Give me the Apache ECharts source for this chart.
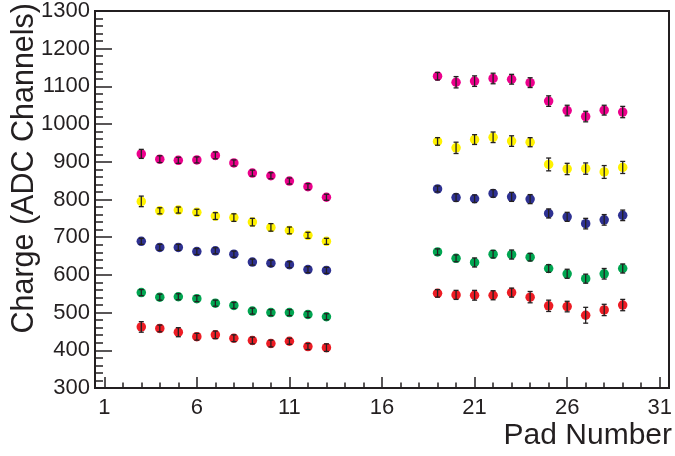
<!DOCTYPE html>
<html>
<head>
<meta charset="utf-8">
<script src="https://cdn.jsdelivr.net/npm/echarts@6/dist/echarts.min.js"></script>
<style>html,body{margin:0;padding:0;background:#fff;}#c{width:675px;height:456px;}</style>
</head>
<body>
<div id="c"></div>
<script>
// Pad numbers
const padsLeft = [3,4,5,6,7,8,9,10,11,12,13];
const padsRight = [19,20,21,22,23,24,25,26,27,28,29];

// Charge values (ADC channels) per series, left group then right group
const magentaVals = [921,907,904,905,917,897,870,863,849,834,806, 1127,1111,1114,1121,1119,1110,1061,1036,1020,1037,1032];
const magentaErr  = [12,9,8,8,9,8,8,8,8,8,8, 10,15,14,14,13,13,14,14,14,13,15];
const yellowVals  = [795,770,772,766,756,752,740,726,718,705,689, 954,937,959,965,955,952,893,881,882,873,885];
const yellowErr   = [14,8,8,8,9,10,10,10,9,8,8, 10,15,13,14,14,12,17,15,15,17,16];
const blueVals    = [689,673,673,662,664,655,634,631,627,614,612, 828,805,802,816,807,801,763,754,736,746,758];
const blueErr     = [8,8,8,8,8,8,8,8,8,8,8, 8,10,10,10,12,12,12,12,14,14,14];
const greenVals   = [553,541,542,537,525,519,504,500,500,495,489, 661,644,633,655,654,647,617,603,590,603,617];
const greenErr    = [8,8,8,8,8,8,8,8,8,8,8, 8,9,12,10,12,10,10,12,12,14,12];
const redVals     = [462,458,448,436,441,432,426,418,424,410,407, 551,547,546,546,553,541,518,516,493,507,520];
const redErr      = [14,9,12,9,10,9,9,9,8,8,10, 10,12,13,12,12,15,15,14,21,15,15];

// Axis ticks
const xMajorTicks = [1,6,11,16,21,26,31];
const xMinorTicks = [];
for (let i = 1; i <= 31; i++) xMinorTicks.push(i);

const pads = padsLeft.concat(padsRight);
const seriesDefs = [
  {name:'magenta', vals:magentaVals, err:magentaErr, color:'#ec008c'},
  {name:'yellow',  vals:yellowVals,  err:yellowErr,  color:'#fff200'},
  {name:'blue',    vals:blueVals,    err:blueErr,    color:'#2e3192'},
  {name:'green',   vals:greenVals,   err:greenErr,   color:'#00a651'},
  {name:'red',     vals:redVals,     err:redErr,     color:'#ed1c24'}
];

const FONT = '"Liberation Sans", Arial, Helvetica, sans-serif';
const TXT = '#231f20';

const series = [];
seriesDefs.forEach(function(s){
  const pts = pads.map(function(p,i){ return [p, s.vals[i]]; });
  const errs = pads.map(function(p,i){ return [p, s.vals[i]-s.err[i], s.vals[i]+s.err[i]]; });
  series.push({
    type:'scatter', name:s.name, data:pts, symbol:'circle', symbolSize:9.5,
    itemStyle:{color:s.color, opacity:1}, z:2, silent:true
  });
  series.push({
    type:'custom', name:s.name+'-err', data:errs, z:3, silent:true,
    renderItem:function(params, api){
      const x = api.value(0);
      const lo = api.coord([x, api.value(1)]);
      const hi = api.coord([x, api.value(2)]);
      const hw = 2.5;
      const st = {stroke:'#231f20', lineWidth:1.3};
      return {type:'group', children:[
        {type:'line', shape:{x1:lo[0], y1:lo[1], x2:hi[0], y2:hi[1]}, style:st},
        {type:'line', shape:{x1:lo[0]-hw, y1:lo[1], x2:lo[0]+hw, y2:lo[1]}, style:st},
        {type:'line', shape:{x1:hi[0]-hw, y1:hi[1], x2:hi[0]+hw, y2:hi[1]}, style:st}
      ]};
    },
    encode:{x:0, y:[1,2]}
  });
});

const chart = echarts.init(document.getElementById('c'), null, {renderer:'canvas'});
chart.setOption({
  animation:false,
  backgroundColor:'#fff',
  grid:{left:95, top:11, right:6, bottom:68, show:true, borderColor:'#231f20', borderWidth:2, backgroundColor:'transparent'},
  xAxis:[{
    type:'value', min:0.5, max:31.5, position:'bottom',
    axisLine:{show:true, onZero:false, lineStyle:{color:'#231f20', width:2}},
    axisTick:{show:true, inside:true, length:11, customValues:xMajorTicks, lineStyle:{color:'#231f20', width:1.5}},
    axisLabel:{show:true, customValues:xMajorTicks, margin:9, fontSize:22, fontFamily:FONT, color:TXT},
    splitLine:{show:false}
  },{
    type:'value', min:0.5, max:31.5, position:'bottom', gridIndex:0,
    axisLine:{show:false, onZero:false},
    axisTick:{show:true, inside:true, length:5.5, customValues:xMinorTicks, lineStyle:{color:'#231f20', width:1.5}},
    axisLabel:{show:false},
    splitLine:{show:false}
  }],
  yAxis:[{
    type:'value', min:300, max:1300, interval:100,
    axisLine:{show:true, onZero:false, lineStyle:{color:'#231f20', width:2}},
    axisTick:{show:true, inside:true, length:17, lineStyle:{color:'#231f20', width:1.5}},
    minorTick:{show:true, splitNumber:5, length:8, lineStyle:{color:'#231f20', width:1.5}},
    axisLabel:{margin:5, fontSize:22, fontFamily:FONT, color:TXT, formatter:function(v){ return String(v); }},
    splitLine:{show:false}, minorSplitLine:{show:false}
  }],
  graphic:[
    {type:'text', x:672, y:436, silent:true,
     style:{text:'Pad Number', font:'30px '+FONT, fill:TXT, align:'right', verticalAlign:'middle'}},
    {type:'text', x:25, y:3, rotation:Math.PI/2, silent:true,
     style:{text:'Charge (ADC Channels)', font:'30.5px '+FONT, fill:TXT, align:'right', verticalAlign:'middle'}}
  ],
  series:series
});
</script>
</body>
</html>
